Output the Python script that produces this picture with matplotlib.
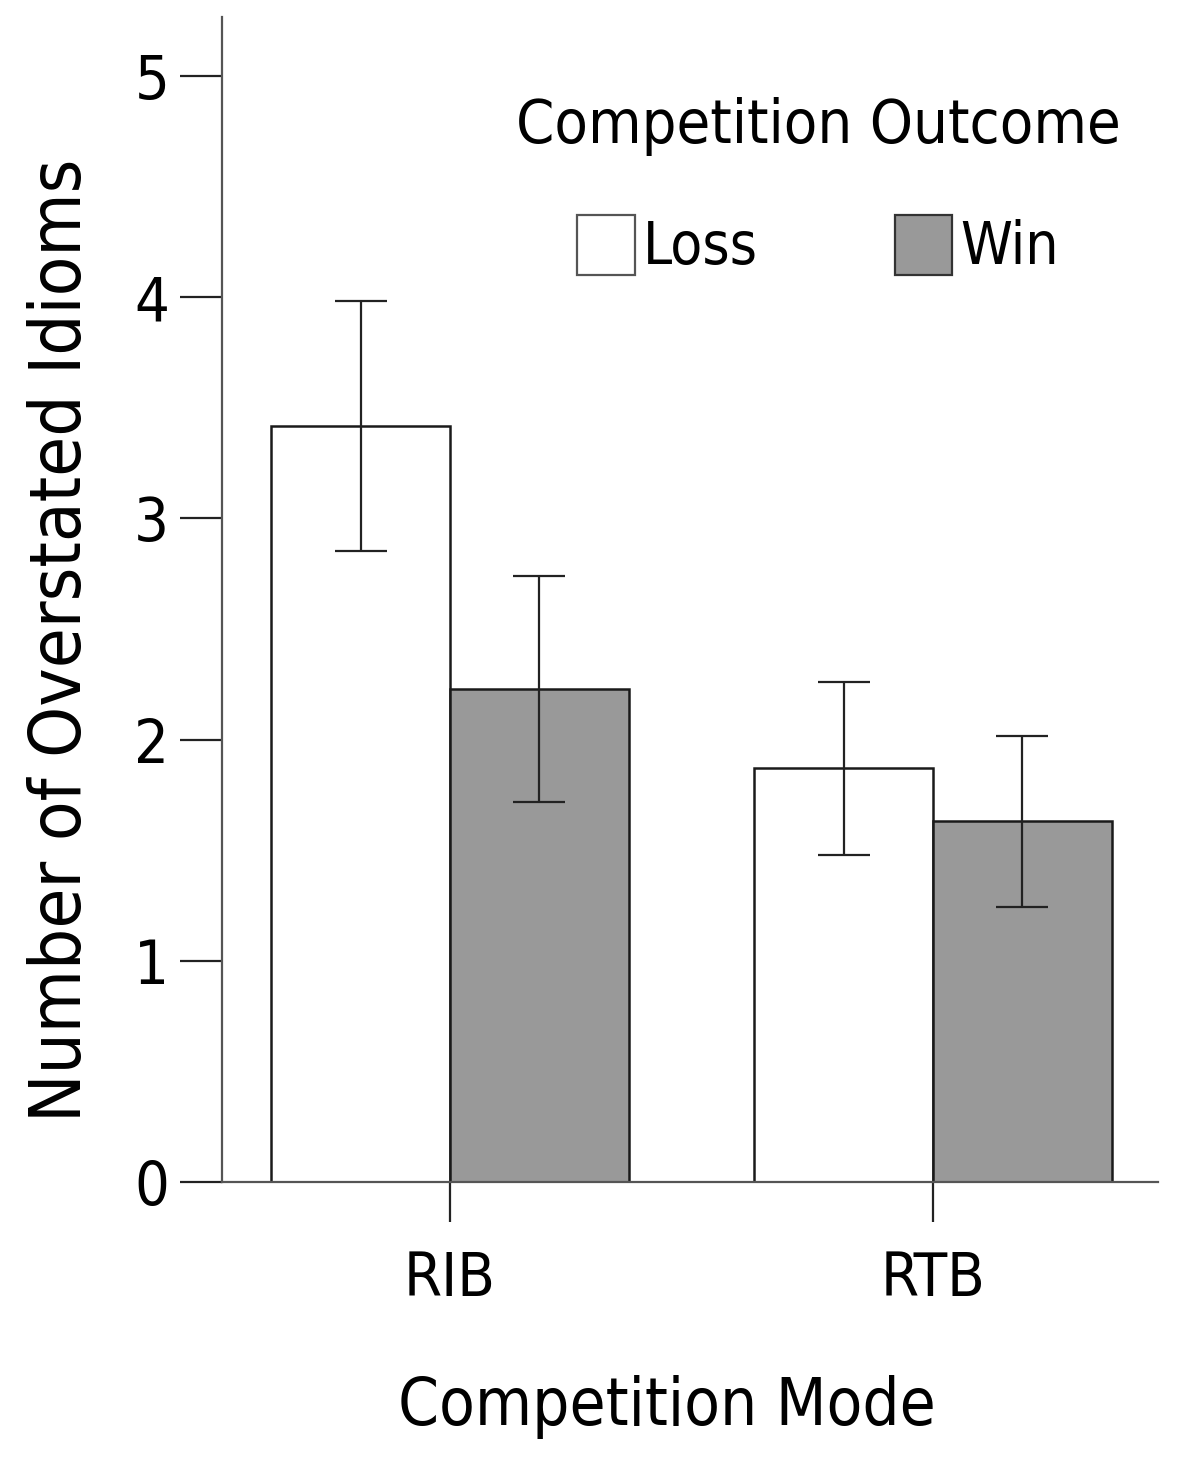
import numpy as np
import matplotlib.pyplot as plt
import matplotlib.font_manager as fm
from matplotlib.patches import Patch

# Data
modes = ['RIB', 'RTB']
outcomes = ['Loss', 'Win']
means_loss = [3.42, 1.87]
means_win = [2.23, 1.63]
err_loss = [0.565, 0.39]
err_win = [0.51, 0.385]
y_ticks = [0, 1, 2, 3, 4, 5]

# look for a narrow / condensed sans face, the reference uses one
def pick_font():
    fonts = fm.fontManager.ttflist
    for key in ['LiberationSansNarrow-Regular', 'DejaVuSansCondensed.', 'RobotoCondensed-Regular',
                'OpenSans_Condensed-Regular', 'OpenSansCondensed', 'NotoSans-Condensed.',
                'Narrow', 'Condensed']:
        for f in fonts:
            fn = f.fname.split('/')[-1]
            if key in fn and f.weight in (400, 'normal', 'regular') and f.style == 'normal':
                return fm.FontProperties(fname=f.fname), True
    return fm.FontProperties(family='DejaVu Sans'), False

fp, narrow = pick_font()

def fprop(size):
    p = fp.copy()
    p.set_size(size)
    return p

fig = plt.figure(figsize=(11.78, 14.58), dpi=100)
ax = fig.add_axes([0.1885, 0.1893, 0.7945, 0.7990])

x = np.arange(len(modes))
w = 0.37
edge = '#1a1a1a'
ekw = dict(ecolor='#222222', elinewidth=1.6, capsize=19, capthick=1.6)

ax.bar(x - w / 2, means_loss, w, color='white', edgecolor=edge, linewidth=1.8,
       yerr=err_loss, error_kw=ekw, zorder=2)
ax.bar(x + w / 2, means_win, w, color='#999999', edgecolor=edge, linewidth=1.8,
       yerr=err_win, error_kw=ekw, zorder=2)

ax.set_xlim(-0.472, 1.466)
ax.set_ylim(0, 5.267)

for s in ['top', 'right']:
    ax.spines[s].set_visible(False)
for s in ['left', 'bottom']:
    ax.spines[s].set_color('#555555')
    ax.spines[s].set_linewidth(1.6)

tick_size = 44 if narrow else 40
ax.set_yticks(y_ticks)
ax.set_yticklabels([str(t) for t in y_ticks], fontproperties=fprop(tick_size))
ax.set_xticks(x)
ax.set_xticklabels(modes, fontproperties=fprop(tick_size))
ax.tick_params(axis='y', length=30, width=1.6, color='#222222', pad=8)
ax.tick_params(axis='x', length=29, width=1.6, color='#222222', pad=20)

fig.text(62 / 1178, 1 - 640 / 1458, 'Number of Overstated Idioms', rotation=90,
         ha='center', va='center', fontproperties=fprop(52 if narrow else 44))
fig.text(667 / 1178, 1 - 1425 / 1458, 'Competition Mode', ha='center',
         va='baseline', fontproperties=fprop(47 if narrow else 42))

handles = [Patch(facecolor='white', edgecolor='#555555', linewidth=1.6),
           Patch(facecolor='#999999', edgecolor='#333333', linewidth=1.6)]
leg = ax.legend(handles, outcomes, ncol=2, title='Competition Outcome',
                prop=fprop(42 if narrow else 36),
                title_fontproperties=fprop(44 if narrow else 38), frameon=False,
                loc='upper center', bbox_to_anchor=(0.637, 0.951),
                handlelength=0.98, handleheight=1.2, handletextpad=0.14,
                columnspacing=2.35, labelspacing=1.0, borderaxespad=0)

fig.savefig('out.png', dpi=100)
